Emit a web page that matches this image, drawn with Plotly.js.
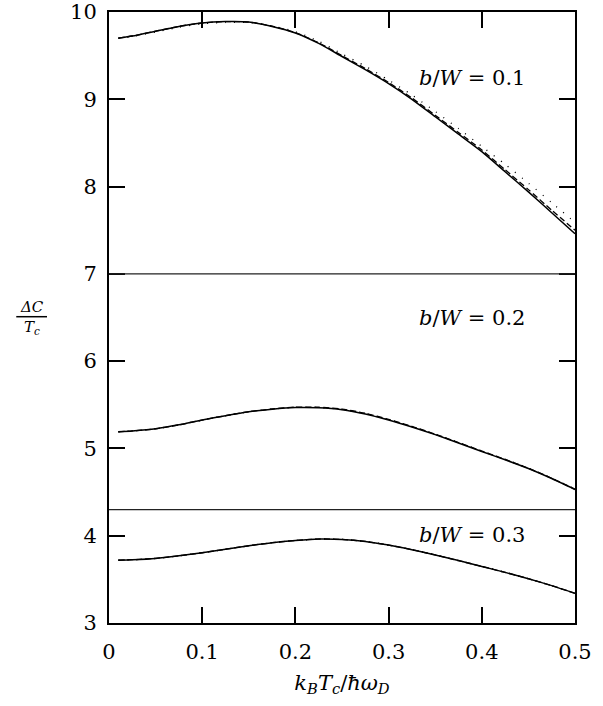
<!DOCTYPE html>
<html>
<head>
<meta charset="utf-8">
<script src="https://cdn.plot.ly/plotly-3.0.1.min.js"></script>
<style>html,body{margin:0;padding:0;background:#fff;}</style>
</head>
<body>
<div id="chart" style="width:603px;height:706px;"></div>
<script>
// x values (k_B T_c / ħω_D)
const xVals = [0.01, 0.025, 0.05, 0.075, 0.1, 0.125, 0.15, 0.175, 0.2, 0.225, 0.25, 0.275, 0.3, 0.325, 0.35, 0.375, 0.4, 0.425, 0.45, 0.475, 0.5];

// b/W = 0.1
const top_solid  = [9.70, 9.725, 9.78, 9.835, 9.875, 9.89, 9.885, 9.835, 9.76, 9.64, 9.49, 9.34, 9.18, 9.00, 8.80, 8.60, 8.40, 8.17, 7.94, 7.70, 7.46];
const top_dashed = [9.70, 9.725, 9.78, 9.835, 9.875, 9.89, 9.885, 9.837, 9.765, 9.647, 9.50, 9.352, 9.193, 9.015, 8.817, 8.62, 8.42, 8.193, 7.965, 7.73, 7.50];
const top_dotted = [9.70, 9.72, 9.77, 9.825, 9.865, 9.88, 9.88, 9.84, 9.775, 9.665, 9.52, 9.38, 9.22, 9.05, 8.86, 8.665, 8.46, 8.255, 8.04, 7.815, 7.59];

// b/W = 0.2
const mid_solid  = [5.19, 5.20, 5.225, 5.27, 5.325, 5.375, 5.42, 5.45, 5.468, 5.466, 5.444, 5.395, 5.325, 5.245, 5.158, 5.063, 4.965, 4.87, 4.77, 4.655, 4.53];
const mid_dashed = [5.19, 5.20, 5.225, 5.27, 5.325, 5.375, 5.42, 5.452, 5.473, 5.472, 5.451, 5.403, 5.333, 5.252, 5.164, 5.068, 4.97, 4.874, 4.773, 4.658, 4.532];
const mid_dotted = [5.19, 5.20, 5.225, 5.27, 5.325, 5.375, 5.42, 5.451, 5.470, 5.469, 5.447, 5.399, 5.33, 5.25, 5.163, 5.068, 4.97, 4.875, 4.775, 4.66, 4.535];

// b/W = 0.3
const bot_solid  = [3.72, 3.725, 3.74, 3.77, 3.805, 3.845, 3.885, 3.92, 3.945, 3.962, 3.958, 3.935, 3.893, 3.84, 3.78, 3.715, 3.648, 3.58, 3.508, 3.428, 3.34];
const bot_dashed = bot_solid.slice();
const bot_dotted = bot_solid.slice();

// panel separators and labels
const separators = [7, 4.3];
const panelLabels = ["<i>b</i>/<i>W</i> = 0.1", "<i>b</i>/<i>W</i> = 0.2", "<i>b</i>/<i>W</i> = 0.3"];
const labelX = [0.389, 0.389, 0.389];
const labelY = [9.24, 6.49, 4.01];

const xTicks = [0, 0.1, 0.2, 0.3, 0.4, 0.5];
const xTickText = ["0", "0.1", "0.2", "0.3", "0.4", "0.5"];
const yTicks = [3, 4, 5, 6, 7, 8, 9, 10];

const FONT = "DejaVu Serif";

function tr(y, dash, w) {
  return {x: xVals, y: y, type: 'scatter', mode: 'lines',
          line: {color: '#000', width: w, dash: dash, shape: 'spline', smoothing: 0.6},
          hoverinfo: 'skip', showlegend: false};
}

const data = [
  tr(top_dotted, '1px,8px', 1.3), tr(top_dashed, '6px,3px', 1.3), tr(top_solid, 'solid', 1.5),
  tr(mid_dotted, '1px,8px', 1.3), tr(mid_dashed, '6px,3px', 1.3), tr(mid_solid, 'solid', 1.5),
  tr(bot_dotted, '1px,8px', 1.3), tr(bot_dashed, '6px,3px', 1.3), tr(bot_solid, 'solid', 1.5)
];

const shapes = separators.map(v => ({
  type: 'line', xref: 'paper', yref: 'y', x0: 0, x1: 1, y0: v, y1: v,
  line: {color: '#222', width: 1.3}
}));
// fraction bar for y-axis label
shapes.push({type: 'line', xref: 'paper', yref: 'paper', x0: -0.199, x1: -0.133, y0: 0.5013, y1: 0.5013,
             line: {color: '#000', width: 1.5}});

const annotations = panelLabels.map((t, i) => ({
  x: labelX[i], y: labelY[i], xref: 'x', yref: 'y', text: t, showarrow: false,
  xanchor: 'center', yanchor: 'middle', font: {family: FONT, size: 21, color: '#000'}
}));
annotations.push({x: -0.166, y: 0.518, xref: 'paper', yref: 'paper', text: '<i>ΔC</i>', showarrow: false,
  xanchor: 'center', yanchor: 'middle', font: {family: FONT, size: 15, color: '#000'}});
annotations.push({x: -0.166, y: 0.483, xref: 'paper', yref: 'paper', text: '<i>T<sub>c</sub></i>', showarrow: false,
  xanchor: 'center', yanchor: 'middle', font: {family: FONT, size: 15, color: '#000'}});

const layout = {
  width: 603, height: 706,
  margin: {l: 108.7, r: 28, t: 12.3, b: 83.3, pad: 0},
  paper_bgcolor: '#fff', plot_bgcolor: '#fff',
  font: {family: FONT, size: 21, color: '#000'},
  xaxis: {
    range: [0, 0.5], tickvals: xTicks, ticktext: xTickText,
    showline: true, linecolor: '#000', linewidth: 2, mirror: 'ticks',
    ticks: 'inside', ticklen: 16, tickwidth: 2, tickcolor: '#000',
    ticklabelstandoff: 9,
    showgrid: false, zeroline: false,
    tickfont: {family: FONT, size: 21},
    title: {text: '<i>k<sub>B</sub>T<sub>c</sub></i>/<i>ħω<sub>D</sub></i>', font: {family: FONT, size: 21}, standoff: 12}
  },
  yaxis: {
    range: [3, 10], tickvals: yTicks,
    showline: true, linecolor: '#000', linewidth: 2, mirror: 'ticks',
    ticks: 'inside', ticklen: 16, tickwidth: 2, tickcolor: '#000',
    ticklabelstandoff: 6,
    showgrid: false, zeroline: false,
    tickfont: {family: FONT, size: 21}
  },
  shapes: shapes,
  annotations: annotations
};

Plotly.newPlot('chart', data, layout, {staticPlot: true, displayModeBar: false});
</script>
</body>
</html>
